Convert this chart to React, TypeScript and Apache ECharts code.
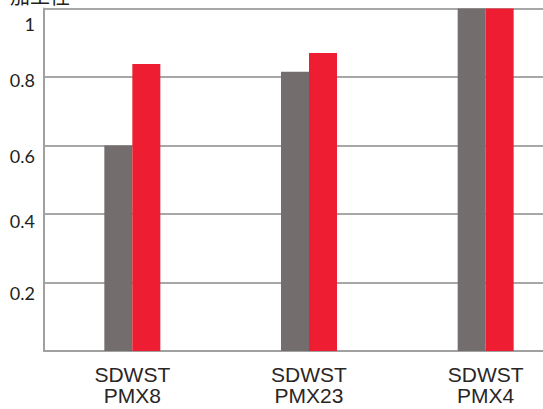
import React, { useEffect, useRef } from "react";
import * as echarts from "echarts";

const categories = ["SDWST\nPMX8", "SDWST\nPMX23", "SDWST\nPMX4"];
const seriesGray = [0.6, 0.815, 1.0];
const seriesRed = [0.838, 0.87, 1.0];
const yTicks = [0.2, 0.4, 0.6, 0.8, 1];
const yTitle = "加工性";

export default function App() {
  const ref = useRef<HTMLDivElement>(null);
  useEffect(() => {
    if (!ref.current) return;
    const chart = echarts.init(ref.current, undefined, { renderer: "svg" });
    // per-label vertical nudges (px) to match reference
    const nudge: Record<string, number> = { "1": 15, "0.8": 3, "0.6": 10, "0.4": 7, "0.2": 10 };
    const rich: Record<string, any> = {};
    yTicks.forEach((t, i) => {
      const d = nudge[String(t)] || 0;
      rich["l" + i] = {
        fontFamily: "Lato",
        fontSize: 18,
        color: "#231f20",
        padding: [2 * d, 0, 0, 0],
      };
    });
    chart.setOption({
      animation: false,
      grid: { left: 44, top: 8.5, width: 530, height: 342.5, outerBoundsMode: "none", containLabel: false },
      graphic: [
        {
          type: "text",
          x: 10,
          y: 5,
          style: {
            text: yTitle,
            fontFamily: "Noto Sans CJK SC",
            fontSize: 20,
            fill: "#231f20",
            verticalAlign: "bottom",
            align: "left",
          },
        },
      ],
      xAxis: {
        type: "category",
        data: categories,
        axisLine: { show: true, lineStyle: { color: "#a0a0a0", width: 2 } },
        axisTick: { show: false },
        axisLabel: {
          margin: 13,
          fontFamily: "Liberation Sans",
          fontSize: 21,
          lineHeight: 21,
          color: "#2b2626",
        },
      },
      yAxis: {
        type: "value",
        min: 0,
        max: 1,
        interval: 0.2,
        axisLine: { show: true, lineStyle: { color: "#a0a0a0", width: 2 } },
        axisTick: { show: false },
        splitLine: { show: true, lineStyle: { color: "#a7a7a7", width: 2 } },
        axisLabel: {
          showMinLabel: false,
          margin: 9,
          formatter: (v: number) => {
            const i = yTicks.findIndex((t) => Math.abs(t - v) < 1e-9);
            if (i < 0) return "";
            return `{l${i}|${String(yTicks[i])}}`;
          },
          rich,
        },
      },
      series: [
        {
          type: "bar",
          data: seriesGray,
          barWidth: 28,
          barGap: "0%",
          itemStyle: { color: "#736e6d" },
          z: 3,
        },
        {
          type: "bar",
          data: seriesRed,
          barWidth: 28,
          barGap: "0%",
          itemStyle: { color: "#ee1d31" },
          z: 3,
        },
      ],
    });
    return () => chart.dispose();
  }, []);
  return <div ref={ref} style={{ width: 543, height: 409, position: "absolute", left: 0, top: 0 }} />;
}
